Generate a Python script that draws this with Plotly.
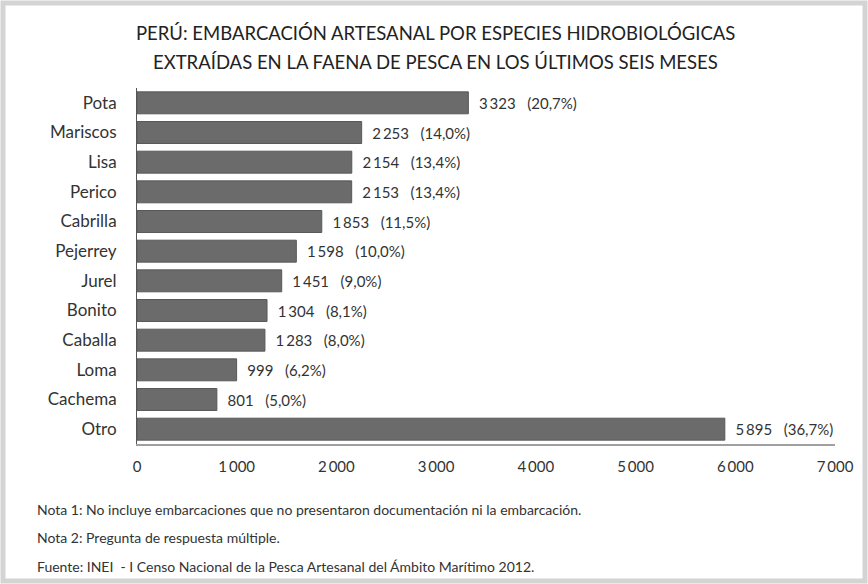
"""Peru artisanal fishing boats by species extracted (horizontal bar chart)."""

import plotly.graph_objects as go

especies = [
    "Pota", "Mariscos", "Lisa", "Perico", "Cabrilla", "Pejerrey",
    "Jurel", "Bonito", "Caballa", "Loma", "Cachema", "Otro",
]
embarcaciones = [3323, 2253, 2154, 2153, 1853, 1598, 1451, 1304, 1283, 999, 801, 5895]
porcentajes = ["20,7", "14,0", "13,4", "13,4", "11,5", "10,0", "9,0", "8,1", "8,0", "6,2", "5,0", "36,7"]
tick_vals = [0, 1000, 2000, 3000, 4000, 5000, 6000, 7000]
tick_text = ["0", "1\u2009000", "2\u2009000", "3\u2009000", "4\u2009000", "5\u2009000", "6\u2009000", "7\u2009000"]

FONT = "Lato, Carlito, Calibri, 'Open Sans', sans-serif"
NB = "\u00a0"


def fmt(v):
    return f"{v:,}".replace(",", "\u2009")


textos = [f"{NB * 2}{fmt(v)}{NB * 3}({p}%)" for v, p in zip(embarcaciones, porcentajes)]

fig = go.Figure()

fig.add_trace(
    go.Bar(
        x=embarcaciones,
        y=especies,
        orientation="h",
        marker=dict(color="#6b6b6b", line=dict(color="#585858", width=1)),
        text=textos,
        textposition="outside",
        textfont=dict(family=FONT, size=15, color="#333"),
        cliponaxis=False,
        hoverinfo="skip",
    )
)

fig.update_layout(
    width=868,
    height=584,
    xaxis=dict(
        range=[0, 7000],
        tickvals=tick_vals,
        ticktext=tick_text,
        showgrid=False,
        zeroline=False,
        showline=True,
        linecolor="#a0a0a0",
        linewidth=2,
        tickfont=dict(family=FONT, size=15, color="#333"),
        ticks="",
        ticklabelstandoff=8,
    ),
    yaxis=dict(
        autorange="reversed",
        showline=True,
        linecolor="#555",
        linewidth=1,
        tickfont=dict(family=FONT, size=17, color="#333"),
        ticks="",
        ticklabelstandoff=16,
    ),
    bargap=0.26,
    paper_bgcolor="white",
    plot_bgcolor="white",
    showlegend=False,
    margin=dict(l=137, r=33, t=88, b=140),
)

# title as two separate lines (wide line spacing in the source)
titulo = [
    "PERÚ: EMBARCACIÓN ARTESANAL POR ESPECIES HIDROBIOLÓGICAS",
    "EXTRAÍDAS EN LA FAENA DE PESCA EN LOS ÚLTIMOS SEIS MESES",
]
for linea, y in zip(titulo, [1.1545, 1.073]):
    fig.add_annotation(
        text=linea, xref="paper", yref="paper", x=0.427, y=y,
        xanchor="center", yanchor="middle", showarrow=False,
        font=dict(family=FONT, size=18.5, color="#222"),
    )

notas = [
    "Nota 1: No incluye embarcaciones que no presentaron documentación ni la embarcación.",
    "Nota 2: Pregunta de respuesta múltiple.",
    "Fuente: INEI  - I Censo Nacional de la Pesca Artesanal del Ámbito Marítimo 2012.",
]
for nota, y in zip(notas, [-0.185, -0.264, -0.343]):
    fig.add_annotation(
        text=nota, xref="paper", yref="paper", x=-0.146, y=y,
        xanchor="left", yanchor="middle", showarrow=False,
        font=dict(family=FONT, size=14, color="#333"),
    )

# light frame around the figure
fig.add_shape(
    type="rect", xref="paper", yref="paper",
    x0=-0.192, x1=1.043, y0=-0.385, y1=1.239,
    line=dict(color="#d4d4d4", width=5),
)

fig.write_html(
    "out.html",
    config={"displayModeBar": False},
    post_script="document.body.style.margin='0';",
)
